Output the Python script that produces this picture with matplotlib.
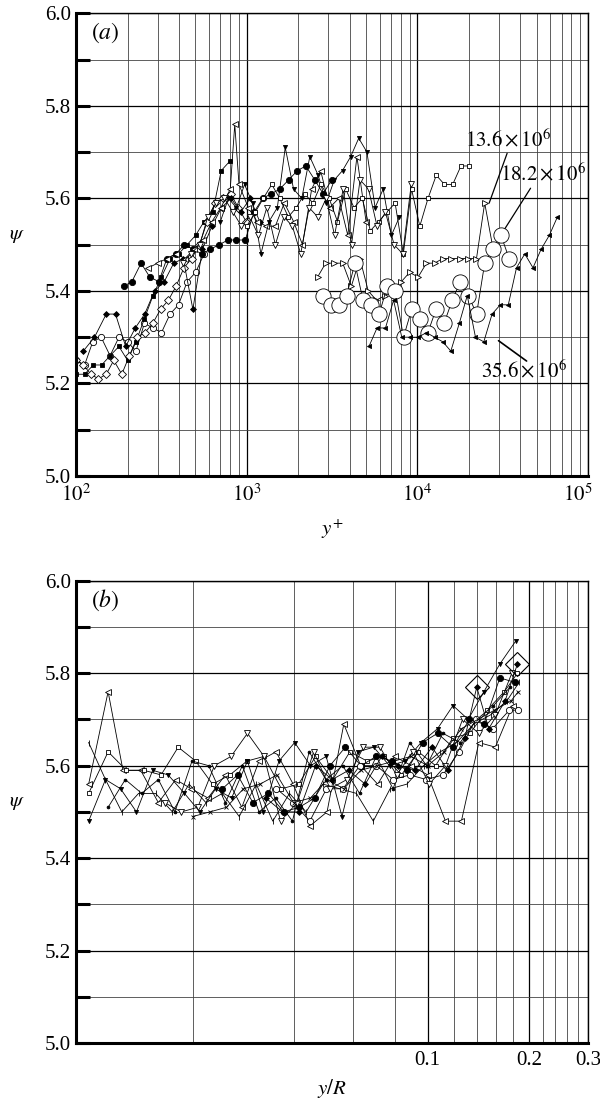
import numpy as np
import matplotlib
matplotlib.use("Agg")
import matplotlib.pyplot as plt
import matplotlib.transforms as mtransforms
from matplotlib.ticker import FixedLocator, NullFormatter, FixedFormatter

# -----------------------------
# Data, panel (a): psi against y+
# -----------------------------
a1_x = [100, 112, 125, 140, 158, 178, 200, 224, 251, 282, 316, 355, 398, 447, 501, 562]
a1_y = [5.25, 5.24, 5.29, 5.30, 5.26, 5.30, 5.29, 5.27, 5.33, 5.32, 5.31, 5.35, 5.37, 5.42, 5.44, 5.48]

a2_x = [100, 112, 126, 141, 158, 178, 200, 224, 251, 282, 316, 355, 398, 447, 501, 562, 631, 708, 794]
a2_y = [5.22, 5.22, 5.24, 5.24, 5.26, 5.28, 5.25, 5.29, 5.34, 5.39, 5.43, 5.47, 5.48, 5.50, 5.52,
        5.55, 5.57, 5.66, 5.68]

a3_x = [100, 110, 122, 135, 150, 166, 185, 205, 228, 253, 281, 312, 347, 385, 428, 475, 528, 586,
        651, 723, 803, 892, 990]
a3_y = [5.25, 5.24, 5.22, 5.21, 5.22, 5.25, 5.22, 5.26, 5.30, 5.31, 5.33, 5.36, 5.38, 5.41, 5.45,
        5.47, 5.50, 5.55, 5.59, 5.60, 5.61, 5.58, 5.55]

a4_x = [110, 128, 150, 170, 195, 222, 252, 288, 328, 373, 424, 483, 549, 625, 711, 809, 920, 1047, 1190]
a4_y = [5.27, 5.30, 5.35, 5.35, 5.28, 5.32, 5.35, 5.40, 5.42, 5.46, 5.47, 5.36, 5.49, 5.54, 5.58,
        5.60, 5.57, 5.60, 5.55]

a5_x = [190, 212, 240, 270, 305, 340, 385, 430, 485, 545, 610, 690, 775, 870, 980, 1100, 1240, 1390,
        1560, 1760, 1980, 2220, 2500, 2800, 3150]
a5_y = [5.41, 5.42, 5.46, 5.43, 5.42, 5.47, 5.48, 5.50, 5.49, 5.48, 5.49, 5.50, 5.51, 5.51, 5.51,
        5.57, 5.60, 5.61, 5.62, 5.64, 5.66, 5.67, 5.64, 5.61, 5.64]

a6_x = [265, 300, 340, 385, 435, 490, 555, 625, 705, 800, 850, 900, 1020, 1150, 1300, 1470, 1660,
        1880, 2120, 2400, 2710, 3060, 3460, 3910, 4420, 5000]
a6_y = [5.45, 5.46, 5.47, 5.48, 5.47, 5.49, 5.51, 5.55, 5.58, 5.62, 5.76, 5.63, 5.58, 5.55, 5.54,
        5.54, 5.59, 5.55, 5.50, 5.62, 5.66, 5.58, 5.60, 5.52, 5.69, 5.55]

a7_x = [700, 780, 870, 970, 1080, 1210, 1350, 1510, 1680, 1880, 2100, 2340, 2620, 2920, 3260, 3640,
        4060, 4530, 5060, 5650, 6300, 7040, 7850]
a7_y = [5.55, 5.60, 5.58, 5.63, 5.59, 5.48, 5.55, 5.58, 5.71, 5.62, 5.60, 5.69, 5.65, 5.59, 5.64,
        5.66, 5.69, 5.73, 5.70, 5.58, 5.62, 5.52, 5.56]

a8_x = [1000, 1120, 1250, 1400, 1560, 1750, 1950, 2180, 2440, 2720, 3040, 3400, 3800, 4250, 4750,
        5300, 5930, 6620, 7400, 8270, 9240, 10330, 11540, 12900, 14410, 16100, 18000, 20100]
a8_y = [5.54, 5.57, 5.60, 5.63, 5.60, 5.56, 5.58, 5.61, 5.59, 5.63, 5.60, 5.55, 5.62, 5.58, 5.60,
        5.53, 5.55, 5.57, 5.59, 5.48, 5.62, 5.54, 5.60, 5.65, 5.63, 5.63, 5.67, 5.67]

a9_x = [420, 470, 530, 590, 660, 740, 830, 930, 1040, 1170, 1310, 1470, 1650, 1850, 2070, 2320,
        2600, 2920, 3270, 3670, 4110, 4610, 5170, 5800, 6500, 7300, 8200, 9200]
a9_y = [5.46, 5.48, 5.50, 5.56, 5.59, 5.60, 5.57, 5.54, 5.56, 5.52, 5.58, 5.50, 5.56, 5.54, 5.48,
        5.58, 5.56, 5.60, 5.52, 5.62, 5.50, 5.64, 5.62, 5.54, 5.57, 5.50, 5.48, 5.63]

# Re = 13.6e6
a10_x = [2600, 2900, 3250, 3650, 4100, 4600, 5150, 5750, 6450, 7200, 8050, 9000, 10100, 11300,
         12600, 14100, 15800, 17700, 19800, 22200, 24800, 27800]
a10_y = [5.43, 5.46, 5.46, 5.46, 5.41, 5.47, 5.40, 5.38, 5.39, 5.40, 5.42, 5.44, 5.43, 5.46, 5.46,
         5.47, 5.47, 5.47, 5.47, 5.47, 5.59, 5.49]

# Re = 18.2e6
a11_x = [2800, 3100, 3450, 3850, 4300, 4800, 5350, 5970, 6660, 7430, 8290, 9250, 10320, 11520,
         12850, 14340, 16000, 17850, 19920, 22230, 24800, 27700, 30900, 34500]
a11_y = [5.39, 5.37, 5.37, 5.39, 5.46, 5.38, 5.37, 5.35, 5.41, 5.40, 5.30, 5.36, 5.34, 5.31, 5.36,
         5.33, 5.38, 5.42, 5.39, 5.35, 5.46, 5.49, 5.52, 5.47]

# Re = 35.6e6
a12_x = [5200, 5800, 6500, 7250, 8100, 9050, 10100, 11300, 12600, 14100, 15700, 17600, 19600,
         21900, 24500, 27400, 30600, 34100, 38100, 42600, 47600, 53100, 59300, 66200]
a12_y = [5.28, 5.32, 5.32, 5.38, 5.30, 5.30, 5.30, 5.31, 5.30, 5.29, 5.27, 5.33, 5.39, 5.30, 5.29,
         5.35, 5.37, 5.37, 5.45, 5.48, 5.45, 5.49, 5.52, 5.56]

# -----------------------------
# Data, panel (b): psi against y/R
# -----------------------------
b1_x = [0.0098, 0.0112, 0.0124, 0.0140, 0.0158, 0.0178, 0.0198, 0.0222, 0.0250, 0.0280, 0.0315,
        0.0354, 0.0398, 0.0447, 0.0502, 0.0563, 0.0632, 0.0710, 0.0797, 0.0895, 0.100, 0.113,
        0.126, 0.142, 0.159, 0.179]
b1_y = [5.56, 5.76, 5.59, 5.59, 5.52, 5.57, 5.55, 5.53, 5.58, 5.51, 5.61, 5.63, 5.56, 5.47, 5.50,
        5.69, 5.60, 5.56, 5.62, 5.60, 5.58, 5.48, 5.48, 5.65, 5.64, 5.73]

b2_x = [0.0098, 0.0112, 0.0127, 0.0143, 0.0161, 0.0181, 0.0204, 0.0229, 0.0258, 0.0290, 0.0326,
        0.0367, 0.0413, 0.0464, 0.0522, 0.0587, 0.0660, 0.0742, 0.0835, 0.0939, 0.1056, 0.1188,
        0.1336, 0.1503, 0.1690, 0.185]
b2_y = [5.54, 5.63, 5.59, 5.59, 5.58, 5.64, 5.61, 5.56, 5.58, 5.61, 5.62, 5.55, 5.56, 5.62, 5.57,
        5.63, 5.61, 5.62, 5.58, 5.63, 5.60, 5.66, 5.67, 5.72, 5.76, 5.80]

b3_x = [0.0098, 0.0110, 0.0123, 0.0138, 0.0155, 0.0174, 0.0195, 0.0219, 0.0245, 0.0275, 0.0309,
        0.0346, 0.0388, 0.0435, 0.0488, 0.0548, 0.0614, 0.0689, 0.0773, 0.0867, 0.0972, 0.109,
        0.122, 0.137, 0.154, 0.172, 0.187]
b3_y = [5.65, 5.57, 5.50, 5.54, 5.54, 5.50, 5.56, 5.52, 5.54, 5.49, 5.56, 5.48, 5.54, 5.50, 5.56,
        5.55, 5.54, 5.48, 5.55, 5.56, 5.60, 5.63, 5.65, 5.69, 5.71, 5.74, 5.78]

b4_x = [0.0112, 0.0126, 0.0141, 0.0158, 0.0177, 0.0199, 0.0223, 0.0250, 0.0281, 0.0315, 0.0353,
        0.0396, 0.0444, 0.0498, 0.0559, 0.0627, 0.0703, 0.0789, 0.0885, 0.0993, 0.111, 0.125,
        0.140, 0.157, 0.176]
b4_y = [5.51, 5.57, 5.54, 5.57, 5.50, 5.61, 5.60, 5.52, 5.60, 5.50, 5.53, 5.48, 5.63, 5.57, 5.60,
        5.54, 5.62, 5.55, 5.65, 5.60, 5.67, 5.65, 5.70, 5.73, 5.77]

b5_x = [0.0245, 0.0272, 0.0302, 0.0336, 0.0373, 0.0415, 0.0461, 0.0512, 0.0569, 0.0633, 0.0703,
        0.0782, 0.0869, 0.0966, 0.107, 0.119, 0.133, 0.147, 0.164, 0.182]
b5_y = [5.55, 5.58, 5.52, 5.54, 5.50, 5.51, 5.53, 5.60, 5.64, 5.60, 5.62, 5.61, 5.59, 5.65, 5.67,
        5.64, 5.70, 5.69, 5.79, 5.78]

b6_x = [0.0355, 0.0398, 0.0446, 0.0500, 0.0560, 0.0628, 0.0704, 0.0789, 0.0884, 0.0991, 0.111,
        0.124, 0.139, 0.156, 0.175, 0.186]
b6_y = [5.55, 5.52, 5.48, 5.55, 5.55, 5.60, 5.60, 5.57, 5.58, 5.57, 5.58, 5.63, 5.70, 5.68, 5.72,
        5.72]

b7_x = [0.0098, 0.0110, 0.0122, 0.0136, 0.0152, 0.0169, 0.0189, 0.0210, 0.0234, 0.0261, 0.0291,
        0.0324, 0.0361, 0.0402, 0.0448, 0.0499, 0.0556, 0.0620, 0.0691, 0.0770, 0.0858, 0.0956,
        0.107, 0.119, 0.132, 0.147, 0.164, 0.183]
b7_y = [5.48, 5.57, 5.55, 5.50, 5.59, 5.58, 5.54, 5.50, 5.55, 5.53, 5.61, 5.50, 5.61, 5.65, 5.60,
        5.62, 5.49, 5.63, 5.64, 5.60, 5.61, 5.65, 5.68, 5.73, 5.70, 5.76, 5.82, 5.87]

b8_x = [0.0165, 0.0185, 0.0207, 0.0232, 0.0260, 0.0291, 0.0326, 0.0365, 0.0409, 0.0458, 0.0513,
        0.0575, 0.0644, 0.0721, 0.0808, 0.0905, 0.101, 0.113, 0.127, 0.142, 0.159, 0.178]
b8_y = [5.52, 5.50, 5.51, 5.60, 5.62, 5.67, 5.62, 5.48, 5.52, 5.63, 5.55, 5.57, 5.64, 5.64, 5.58,
        5.63, 5.56, 5.60, 5.70, 5.67, 5.71, 5.80]

b9_x = [0.0330, 0.0370, 0.0414, 0.0464, 0.0520, 0.0582, 0.0652, 0.0730, 0.0818, 0.0916, 0.103,
        0.115, 0.129, 0.140, 0.152, 0.170, 0.185]
b9_y = [5.53, 5.50, 5.50, 5.60, 5.57, 5.59, 5.56, 5.62, 5.60, 5.59, 5.64, 5.59, 5.66, 5.77, 5.68,
        5.74, 5.82]

b10_x = [0.0200, 0.0225, 0.0252, 0.0283, 0.0317, 0.0356, 0.0399, 0.0448, 0.0502, 0.0563, 0.0632,
         0.0709, 0.0795, 0.0892, 0.100, 0.112, 0.126, 0.141, 0.158, 0.177, 0.186]
b10_y = [5.49, 5.50, 5.51, 5.55, 5.56, 5.58, 5.52, 5.53, 5.57, 5.55, 5.59, 5.60, 5.61, 5.62, 5.60,
         5.63, 5.68, 5.70, 5.72, 5.74, 5.76]

b_large_x = [0.140, 0.185]
b_large_y = [5.77, 5.82]

# -----------------------------
# Plot settings
# -----------------------------
plt.rcParams["font.family"] = ["Liberation Serif", "DejaVu Serif"]
plt.rcParams["mathtext.fontset"] = "stix"

black = "black"
line_kw = dict(color=black, lw=0.6, mew=0.6, mec=black)
filled = dict(mfc=black)
hollow = dict(mfc="white")

fig = plt.figure(figsize=(6.0, 11.02), dpi=100)
ax_a = fig.add_axes([0.127, 0.568, 0.853, 0.420])
ax_b = fig.add_axes([0.127, 0.0535, 0.853, 0.4195])

# -----------------------------
# Panel (a)
# -----------------------------
series_a = [
    (a1_x, a1_y, "o", 4.5, hollow),
    (a2_x, a2_y, "s", 3, filled),
    (a3_x, a3_y, "D", 4, hollow),
    (a4_x, a4_y, "D", 3, filled),
    (a5_x, a5_y, "o", 4.5, filled),
    (a6_x, a6_y, "<", 4, hollow),
    (a7_x, a7_y, "v", 3, filled),
    (a8_x, a8_y, "s", 3, hollow),
    (a9_x, a9_y, "v", 4, hollow),
    (a10_x, a10_y, ">", 4, hollow),
    (a11_x, a11_y, "o", 11, hollow),
    (a12_x, a12_y, "<", 3, filled),
]
for x, y, m, ms, face in series_a:
    ax_a.plot(x, y, marker=m, ms=ms, **face, **line_kw)

ax_a.set_xscale("log")
ax_a.set_xlim(1e2, 1e5)
ax_a.set_ylim(5.0, 6.0)
ax_a.xaxis.set_major_locator(FixedLocator([1e2, 1e3, 1e4, 1e5]))
ax_a.xaxis.set_major_formatter(FixedFormatter([r"$10^2$", r"$10^3$", r"$10^4$", r"$10^5$"]))
minor_a = [m * 10 ** e for e in (2, 3, 4) for m in range(2, 10)]
ax_a.xaxis.set_minor_locator(FixedLocator(minor_a))
ax_a.xaxis.set_minor_formatter(NullFormatter())
ax_a.set_xlabel(r"$y^{+}$", fontsize=15, labelpad=8)

ax_a.text(1.9e4, 5.725, r"$13.6\times10^{6}$", fontsize=15, va="center")
ax_a.text(3.05e4, 5.652, r"$18.2\times10^{6}$", fontsize=15, va="center")
ax_a.text(2.35e4, 5.227, r"$35.6\times10^{6}$", fontsize=15, va="center")
ax_a.annotate("", xy=(2.6e4, 5.584), xytext=(3.4e4, 5.703),
              arrowprops=dict(arrowstyle="-", lw=0.9, color=black))
ax_a.annotate("", xy=(3.2e4, 5.530), xytext=(4.7e4, 5.627),
              arrowprops=dict(arrowstyle="-", lw=0.9, color=black))
ax_a.annotate("", xy=(2.9e4, 5.296), xytext=(4.5e4, 5.245),
              arrowprops=dict(arrowstyle="-", lw=1.2, color=black))
ax_a.text(0.028, 0.958, r"$(a)$", transform=ax_a.transAxes, fontsize=17, va="center",
          bbox=dict(facecolor="white", edgecolor="none", pad=1))

# -----------------------------
# Panel (b)
# -----------------------------
series_b = [
    (b1_x, b1_y, "<", 4, hollow),
    (b2_x, b2_y, "s", 3, hollow),
    (b3_x, b3_y, "|", 4, filled),
    (b4_x, b4_y, "o", 2, filled),
    (b5_x, b5_y, "o", 4.5, filled),
    (b6_x, b6_y, "o", 4.5, hollow),
    (b7_x, b7_y, "v", 3, filled),
    (b8_x, b8_y, "v", 4, hollow),
    (b9_x, b9_y, "D", 3, filled),
    (b10_x, b10_y, "x", 3.5, filled),
]
for x, y, m, ms, face in series_b:
    ax_b.plot(x, y, marker=m, ms=ms, **face, **line_kw)
ax_b.plot(b_large_x, b_large_y, ls="none", marker="D", ms=12, mfc="none", mec=black, mew=0.8)

ax_b.set_xscale("log")
ax_b.set_xlim(0.009, 0.3)
ax_b.set_ylim(5.0, 6.0)
ax_b.xaxis.set_major_locator(FixedLocator([0.1, 0.2, 0.3]))
ax_b.xaxis.set_major_formatter(FixedFormatter(["0.1", "0.2", "0.3"]))
minor_b = [0.02, 0.04, 0.06, 0.08, 0.12, 0.14, 0.16, 0.18, 0.22, 0.24, 0.26, 0.28]
ax_b.xaxis.set_minor_locator(FixedLocator(minor_b))
ax_b.xaxis.set_minor_formatter(NullFormatter())
ax_b.set_xlabel(r"$y/R$", fontsize=15, labelpad=5)
ax_b.text(0.028, 0.958, r"$(b)$", transform=ax_b.transAxes, fontsize=17, va="center",
          bbox=dict(facecolor="white", edgecolor="none", pad=1))

# -----------------------------
# Shared axis styling
# -----------------------------
for ax in (ax_a, ax_b):
    ax.set_yticks(np.arange(5.0, 6.01, 0.2))
    ax.set_yticklabels([f"{v:.1f}" for v in np.arange(5.0, 6.01, 0.2)])
    ax.set_yticks(np.arange(5.1, 6.0, 0.2), minor=True)
    ax.grid(True, which="major", color=black, lw=0.9)
    ax.grid(True, which="minor", color="#444444", lw=0.6)
    ax.set_axisbelow(True)
    ax.tick_params(axis="y", which="both", direction="in", length=10, width=2.2,
                   labelsize=15, pad=4)
    ax.tick_params(axis="x", which="both", direction="in", length=0, labelsize=15, pad=6)
    ax.spines["left"].set_linewidth(2.2)
    ax.spines["bottom"].set_linewidth(2.2)
    ax.spines["top"].set_linewidth(1.0)
    ax.spines["right"].set_linewidth(1.0)
    ax.set_ylabel(r"$\psi$", fontsize=15, rotation=0)
    ax.yaxis.set_label_coords(-0.115, 0.5)

# nudge the 10^5 label so it stays inside the figure
fig.canvas.draw()
last = ax_a.get_xticklabels()[-1]
last.set_transform(last.get_transform() + mtransforms.ScaledTranslation(-7 / 72, 0, fig.dpi_scale_trans))

plt.savefig("out.png", dpi=100)
plt.close()
